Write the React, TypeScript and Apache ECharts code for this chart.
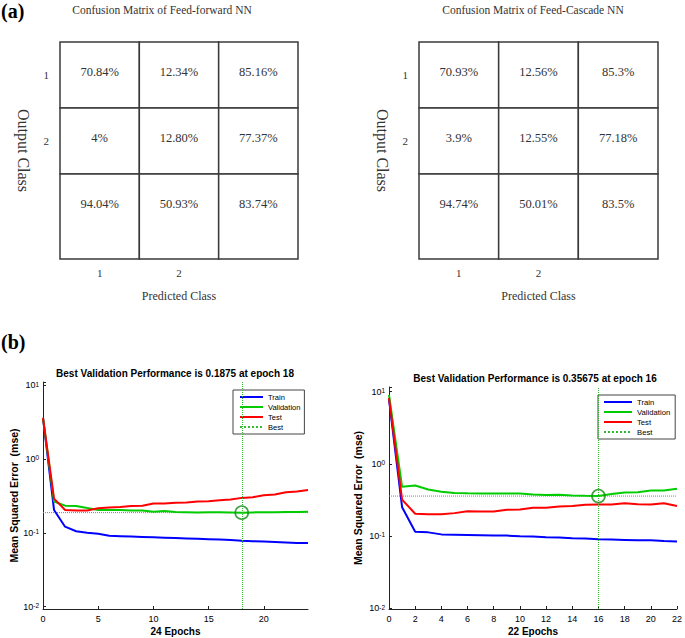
import React, { useEffect, useRef } from 'react';
import * as echarts from 'echarts';

// ---------- Data ----------
const matrixColLabels = ['1', '2', ''];
const matrixRowLabels = ['1', '2', ''];
const ffCells = [
  ['70.84%', '12.34%', '85.16%'],
  ['4%', '12.80%', '77.37%'],
  ['94.04%', '50.93%', '83.74%'],
];
const fcCells = [
  ['70.93%', '12.56%', '85.3%'],
  ['3.9%', '12.55%', '77.18%'],
  ['94.74%', '50.01%', '83.5%'],
];

const ffTrain = [3.6, 0.204, 0.121, 0.105, 0.1, 0.097, 0.091, 0.09, 0.089, 0.088, 0.087, 0.086, 0.085, 0.084, 0.083, 0.082, 0.081, 0.08, 0.078, 0.077, 0.076, 0.075, 0.074, 0.073, 0.073];
const ffValidation = [3.6, 0.265, 0.233, 0.231, 0.217, 0.204, 0.204, 0.203, 0.2, 0.2, 0.193, 0.197, 0.191, 0.19, 0.189, 0.19, 0.19, 0.189, 0.1875, 0.189, 0.19, 0.19, 0.191, 0.191, 0.192];
const ffTest = [3.6, 0.29, 0.204, 0.2, 0.2, 0.215, 0.22, 0.224, 0.231, 0.233, 0.25, 0.25, 0.256, 0.258, 0.265, 0.268, 0.276, 0.282, 0.297, 0.303, 0.323, 0.33, 0.355, 0.362, 0.38];
const ffBestEpoch = 18;
const ffBestValue = 0.1875;
const ffEpochs = 24;

const fcTrain = [7.8, 0.25, 0.114, 0.112, 0.105, 0.104, 0.103, 0.102, 0.101, 0.101, 0.099, 0.098, 0.096, 0.095, 0.093, 0.092, 0.09, 0.089, 0.088, 0.087, 0.087, 0.085, 0.084];
const fcValidation = [9.0, 0.48, 0.5, 0.44, 0.41, 0.395, 0.39, 0.387, 0.387, 0.387, 0.387, 0.376, 0.368, 0.372, 0.364, 0.36, 0.35675, 0.38, 0.4, 0.404, 0.425, 0.425, 0.45];
const fcTest = [8.2, 0.318, 0.203, 0.2, 0.2, 0.207, 0.22, 0.218, 0.218, 0.23, 0.232, 0.245, 0.245, 0.255, 0.26, 0.27, 0.272, 0.272, 0.284, 0.275, 0.272, 0.284, 0.26];
const fcBestEpoch = 16;
const fcBestValue = 0.35675;
const fcEpochs = 22;

const legendNames = ['Train', 'Validation', 'Test', 'Best'];

// ---------- Styles ----------
const SERIF = '"Liberation Serif", "DejaVu Serif", serif';
const SANS = '"Liberation Sans", Arial, sans-serif';
const C_TRAIN = '#0000ff';
const C_VAL = '#00cc00';
const C_TEST = '#ff0000';
const C_BEST = '#33bb33';
const C_CIRCLE = '#128a12';

const toXY = (arr: number[]) => arr.map((v, i) => [i, v]);

const matrixRender = (cells: string[][]) => (params: any, api: any) => {
  const c = api.value(0);
  const r = api.value(1);
  const p0 = api.coord([c, r]);
  const p1 = api.coord([c + 1, r + 1]);
  const cs = params.coordSys;
  const bottom = r === cells.length - 1 ? cs.y + cs.height : p1[1];
  return {
    type: 'group',
    children: [
      {
        type: 'rect',
        shape: { x: p0[0], y: p0[1], width: p1[0] - p0[0], height: bottom - p0[1] },
        style: { fill: '#fff', stroke: '#3a3a3a', lineWidth: 1.5 },
      },
      {
        type: 'text',
        x: (p0[0] + p1[0]) / 2,
        y: p0[1] + (p1[1] - p0[1]) * 0.45,
        style: {
          text: cells[r][c],
          align: 'center',
          verticalAlign: 'middle',
          fontFamily: SERIF,
          fontSize: 12.5,
          fill: '#333',
        },
      },
    ],
  };
};

const matrixData = (cells: string[][]) => {
  const out: number[][] = [];
  cells.forEach((row, r) => row.forEach((_, c) => out.push([c, r])));
  return out;
};

const halfLabel = (labels: string[]) => (v: number) => {
  const idx = v - 0.5;
  if (Number.isInteger(idx) && labels[idx] !== undefined) return labels[idx];
  return '';
};

const logLabel = (v: number) => {
  const e = Math.log10(v);
  const r = Math.round(e);
  if (Math.abs(e - r) > 1e-6) return '';
  return `{b|10}{s|${r}}`;
};

const matrixXAxis = (gridIndex: number) => ({
  type: 'value',
  gridIndex,
  min: 0,
  max: 3,
  interval: 0.5,
  position: 'bottom',
  axisLine: { show: false },
  axisTick: { show: false },
  splitLine: { show: false },
  axisLabel: { formatter: halfLabel(matrixColLabels), margin: 8, fontFamily: SERIF, fontSize: 11, color: '#333' },
  name: 'Predicted Class',
  nameLocation: 'middle',
  nameGap: 31,
  nameTextStyle: { fontFamily: SERIF, fontSize: 12, color: '#333' },
});

const matrixYAxis = (gridIndex: number) => ({
  type: 'value',
  gridIndex,
  min: 0,
  max: 3.29,
  interval: 0.5,
  inverse: true,
  axisLine: { show: false },
  axisTick: { show: false },
  splitLine: { show: false },
  axisLabel: { formatter: halfLabel(matrixRowLabels), margin: 11, fontFamily: SERIF, fontSize: 11, color: '#333' },
  name: 'Output Class',
  nameLocation: 'middle',
  nameRotate: -90,
  nameGap: 29,
  nameTextStyle: { fontFamily: SERIF, fontSize: 16, color: '#333' },
});

const plotXAxis = (gridIndex: number, max: number, interval: number, name: string) => ({
  type: 'value',
  gridIndex,
  min: 0,
  max,
  interval,
  axisLine: { lineStyle: { color: '#222', width: 1 } },
  axisTick: { inside: true, length: 3, lineStyle: { color: '#222' } },
  splitLine: { show: false },
  axisLabel: { showMaxLabel: max % interval === 0, margin: 5, fontFamily: SANS, fontSize: 9, color: '#000' },
  name,
  nameLocation: 'middle',
  nameGap: 17,
  nameTextStyle: { fontFamily: SANS, fontSize: 10, fontWeight: 'bold', color: '#000' },
});

const plotYAxis = (gridIndex: number, min: number, max: number, nameGap: number) => ({
  type: 'log',
  logBase: 10,
  gridIndex,
  min,
  max,
  axisLine: { lineStyle: { color: '#222', width: 1 } },
  axisTick: { inside: true, length: 3, lineStyle: { color: '#222' } },
  splitLine: { show: false },
  axisLabel: {
    formatter: logLabel,
    margin: 4,
    rich: {
      b: { fontFamily: SANS, fontSize: 9, color: '#000' },
      s: { fontFamily: SANS, fontSize: 6.5, color: '#000', verticalAlign: 'top' },
    },
  },
  name: 'Mean Squared Error  (mse)',
  nameLocation: 'middle',
  nameGap,
  nameTextStyle: { fontFamily: SANS, fontSize: 10.5, fontWeight: 'bold', color: '#000' },
});

const perfSeries = (
  idx: number,
  train: number[],
  val: number[],
  test: number[],
  epochs: number,
  bestEpoch: number,
  bestValue: number
) => [
  {
    name: 'Train', type: 'line', xAxisIndex: idx, yAxisIndex: idx, data: toXY(train),
    symbol: 'none', lineStyle: { color: C_TRAIN, width: 2 }, itemStyle: { color: C_TRAIN }, z: 3,
  },
  {
    name: 'Validation', type: 'line', xAxisIndex: idx, yAxisIndex: idx, data: toXY(val),
    symbol: 'none', lineStyle: { color: C_VAL, width: 2 }, itemStyle: { color: C_VAL }, z: 3,
  },
  {
    name: 'Test', type: 'line', xAxisIndex: idx, yAxisIndex: idx, data: toXY(test),
    symbol: 'none', lineStyle: { color: C_TEST, width: 2 }, itemStyle: { color: C_TEST }, z: 3,
  },
  {
    name: 'Best', type: 'line', xAxisIndex: idx, yAxisIndex: idx,
    data: [[0, bestValue], [epochs, bestValue]],
    symbol: 'none', lineStyle: { color: C_BEST, width: 1, type: 'dotted' }, itemStyle: { color: C_BEST }, z: 2,
    markLine: {
      silent: true, symbol: ['none', 'none'], label: { show: false },
      lineStyle: { color: C_BEST, width: 1, type: 'dotted' },
      data: [{ xAxis: bestEpoch }],
    },
  },
  {
    name: 'bestPoint', type: 'scatter', xAxisIndex: idx, yAxisIndex: idx,
    data: [[bestEpoch, bestValue]], symbol: 'circle', symbolSize: 13, silent: true, z: 5,
    itemStyle: { color: 'rgba(0,0,0,0)', borderColor: C_CIRCLE, borderWidth: 1.6 },
  },
];

const legendCfg = (left: number, top: number, itemWidth: number, fontSize: number, padding: number[]) => ({
  orient: 'vertical',
  left,
  top,
  data: legendNames,
  itemWidth,
  itemHeight: 9,
  itemGap: 2,
  padding,
  borderColor: '#444',
  borderWidth: 1,
  backgroundColor: '#fff',
  selectedMode: false,
  itemStyle: { opacity: 0, borderWidth: 0 },
  textStyle: { fontFamily: SANS, fontSize, color: '#000' },
});

const txt = (text: string, x: number, y: number, font: string, align = 'center', fill = '#000') => ({
  type: 'text',
  x,
  y,
  silent: true,
  style: { text, font, fill, align, textAlign: align, verticalAlign: 'middle', textVerticalAlign: 'middle' },
});

const App: React.FC = () => {
  const ref = useRef<HTMLDivElement>(null);
  useEffect(() => {
    if (!ref.current) return;
    const chart = echarts.init(ref.current, undefined, { renderer: 'svg' });
    const option: any = {
      animation: false,
      backgroundColor: '#fff',
      grid: [
        { left: 60, top: 42, width: 238, height: 217 },
        { left: 419, top: 42, width: 239, height: 217 },
        { left: 43, top: 382, width: 265, height: 227 },
        { left: 389, top: 387, width: 291.5, height: 222 },
      ],
      xAxis: [
        matrixXAxis(0),
        matrixXAxis(1),
        plotXAxis(2, ffEpochs, 5, `${ffEpochs} Epochs`),
        plotXAxis(3, fcEpochs, 2, `${fcEpochs} Epochs`),
      ],
      yAxis: [
        matrixYAxis(0),
        matrixYAxis(1),
        plotYAxis(2, 0.0093, 11, 20),
        plotYAxis(3, 0.0097, 11.6, 26),
      ],
      legend: [
        legendCfg(233, 390, 23, 7.5, [3, 4, 3, 6]),
        legendCfg(598, 395, 28, 7.7, [3, 5, 3, 5]),
      ],
      graphic: [
        txt('(a)', 1, 11, `bold 20px ${SERIF}`, 'left'),
        txt('(b)', 1, 342, `bold 20px ${SERIF}`, 'left'),
        txt('Confusion Matrix of Feed-forward NN', 162, 10, `11.5px ${SERIF}`, 'center', '#333'),
        txt('Confusion Matrix of Feed-Cascade NN', 533, 10, `11.5px ${SERIF}`, 'center', '#333'),
        txt(`Best Validation Performance is ${ffBestValue} at epoch ${ffBestEpoch}`, 175, 373, `bold 10px ${SANS}`),
        txt(`Best Validation Performance is ${fcBestValue} at epoch ${fcBestEpoch}`, 535, 378, `bold 10px ${SANS}`),
      ],
      series: [
        {
          type: 'custom', xAxisIndex: 0, yAxisIndex: 0, data: matrixData(ffCells),
          renderItem: matrixRender(ffCells), silent: true,
        },
        {
          type: 'custom', xAxisIndex: 1, yAxisIndex: 1, data: matrixData(fcCells),
          renderItem: matrixRender(fcCells), silent: true,
        },
        ...perfSeries(2, ffTrain, ffValidation, ffTest, ffEpochs, ffBestEpoch, ffBestValue),
        ...perfSeries(3, fcTrain, fcValidation, fcTest, fcEpochs, fcBestEpoch, fcBestValue),
      ],
    };
    chart.setOption(option);
    return () => chart.dispose();
  }, []);
  return (
    <div
      ref={ref}
      style={{ position: 'fixed', left: 0, top: 0, width: 685, height: 638, background: '#fff' }}
    />
  );
};

export default App;
